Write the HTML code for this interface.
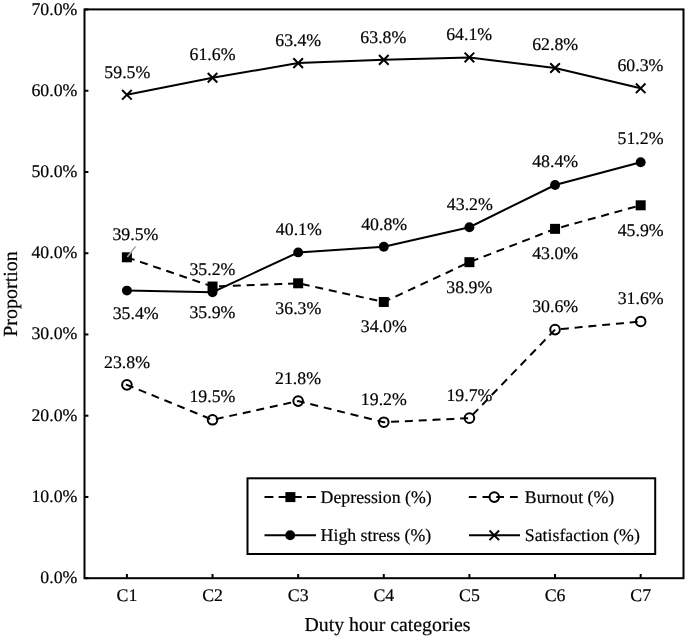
<!DOCTYPE html>
<html><head><meta charset="utf-8"><style>
html,body{margin:0;padding:0;background:#fff;}
svg{display:block;will-change:transform;}
text{text-rendering:geometricPrecision;stroke:#000;stroke-width:0.2px;font-family:"Liberation Serif",serif;font-size:17.8px;fill:#000;}
</style></head><body>
<svg width="685" height="638" viewBox="0 0 685 638">
<rect x="84.5" y="9.4" width="599" height="568.8" fill="none" stroke="#000" stroke-width="2"/>
<line x1="85" y1="578.20" x2="88.4" y2="578.20" stroke="#000" stroke-width="2"/>
<text x="77.4" y="583.20" text-anchor="end">0.0%</text>
<line x1="85" y1="496.96" x2="88.4" y2="496.96" stroke="#000" stroke-width="2"/>
<text x="77.4" y="501.96" text-anchor="end">10.0%</text>
<line x1="85" y1="415.71" x2="88.4" y2="415.71" stroke="#000" stroke-width="2"/>
<text x="77.4" y="420.71" text-anchor="end">20.0%</text>
<line x1="85" y1="334.47" x2="88.4" y2="334.47" stroke="#000" stroke-width="2"/>
<text x="77.4" y="339.47" text-anchor="end">30.0%</text>
<line x1="85" y1="253.23" x2="88.4" y2="253.23" stroke="#000" stroke-width="2"/>
<text x="77.4" y="258.23" text-anchor="end">40.0%</text>
<line x1="85" y1="171.99" x2="88.4" y2="171.99" stroke="#000" stroke-width="2"/>
<text x="77.4" y="176.99" text-anchor="end">50.0%</text>
<line x1="85" y1="90.74" x2="88.4" y2="90.74" stroke="#000" stroke-width="2"/>
<text x="77.4" y="95.74" text-anchor="end">60.0%</text>
<line x1="85" y1="9.50" x2="88.4" y2="9.50" stroke="#000" stroke-width="2"/>
<text x="77.4" y="14.50" text-anchor="end">70.0%</text>
<line x1="126.90" y1="578.2" x2="126.90" y2="574" stroke="#000" stroke-width="2"/>
<text x="126.90" y="601" text-anchor="middle">C1</text>
<line x1="212.53" y1="578.2" x2="212.53" y2="574" stroke="#000" stroke-width="2"/>
<text x="212.53" y="601" text-anchor="middle">C2</text>
<line x1="298.16" y1="578.2" x2="298.16" y2="574" stroke="#000" stroke-width="2"/>
<text x="298.16" y="601" text-anchor="middle">C3</text>
<line x1="383.79" y1="578.2" x2="383.79" y2="574" stroke="#000" stroke-width="2"/>
<text x="383.79" y="601" text-anchor="middle">C4</text>
<line x1="469.42" y1="578.2" x2="469.42" y2="574" stroke="#000" stroke-width="2"/>
<text x="469.42" y="601" text-anchor="middle">C5</text>
<line x1="555.05" y1="578.2" x2="555.05" y2="574" stroke="#000" stroke-width="2"/>
<text x="555.05" y="601" text-anchor="middle">C6</text>
<line x1="640.68" y1="578.2" x2="640.68" y2="574" stroke="#000" stroke-width="2"/>
<text x="640.68" y="601" text-anchor="middle">C7</text>
<text x="387.5" y="631" text-anchor="middle" style="font-size:19.8px">Duty hour categories</text>
<text transform="translate(16.5,294) rotate(-90)" text-anchor="middle" style="font-size:20px">Proportion</text>
<polyline points="126.90,384.84 212.53,419.78 298.16,401.09 383.79,422.21 469.42,418.15 555.05,329.60 640.68,321.47" fill="none" stroke="#000" stroke-width="2" stroke-linecap="square" stroke-dasharray="6 7.83"/>
<polyline points="126.90,257.29 212.53,286.54 298.16,283.29 383.79,301.97 469.42,262.17 555.05,228.86 640.68,205.30" fill="none" stroke="#000" stroke-width="2" stroke-linecap="square" stroke-dasharray="6 7.83" stroke-dashoffset="-1.1"/>
<polyline points="126.90,290.60 212.53,292.23 298.16,252.42 383.79,246.73 469.42,227.23 555.05,184.98 640.68,162.24" fill="none" stroke="#000" stroke-width="2"/>
<polyline points="126.90,94.81 212.53,77.74 298.16,63.12 383.79,59.87 469.42,57.43 555.05,67.99 640.68,88.31" fill="none" stroke="#000" stroke-width="2"/>
<circle cx="126.90" cy="384.84" r="4.80" fill="none" stroke="#000" stroke-width="2"/>
<circle cx="212.53" cy="419.78" r="4.80" fill="none" stroke="#000" stroke-width="2"/>
<circle cx="298.16" cy="401.09" r="4.80" fill="none" stroke="#000" stroke-width="2"/>
<circle cx="383.79" cy="422.21" r="4.80" fill="none" stroke="#000" stroke-width="2"/>
<circle cx="469.42" cy="418.15" r="4.80" fill="none" stroke="#000" stroke-width="2"/>
<circle cx="555.05" cy="329.60" r="4.80" fill="none" stroke="#000" stroke-width="2"/>
<circle cx="640.68" cy="321.47" r="4.80" fill="none" stroke="#000" stroke-width="2"/>
<rect x="121.90" y="252.29" width="10.00" height="10.00" fill="#000"/>
<rect x="207.53" y="281.54" width="10.00" height="10.00" fill="#000"/>
<rect x="293.16" y="278.29" width="10.00" height="10.00" fill="#000"/>
<rect x="378.79" y="296.97" width="10.00" height="10.00" fill="#000"/>
<rect x="464.42" y="257.17" width="10.00" height="10.00" fill="#000"/>
<rect x="550.05" y="223.86" width="10.00" height="10.00" fill="#000"/>
<rect x="635.68" y="200.30" width="10.00" height="10.00" fill="#000"/>
<circle cx="126.90" cy="290.60" r="4.95" fill="#000"/>
<circle cx="212.53" cy="292.23" r="4.95" fill="#000"/>
<circle cx="298.16" cy="252.42" r="4.95" fill="#000"/>
<circle cx="383.79" cy="246.73" r="4.95" fill="#000"/>
<circle cx="469.42" cy="227.23" r="4.95" fill="#000"/>
<circle cx="555.05" cy="184.98" r="4.95" fill="#000"/>
<circle cx="640.68" cy="162.24" r="4.95" fill="#000"/>
<path d="M122.10 90.01L131.70 99.61M122.10 99.61L131.70 90.01" stroke="#000" stroke-width="2" fill="none"/>
<path d="M207.73 72.94L217.33 82.54M207.73 82.54L217.33 72.94" stroke="#000" stroke-width="2" fill="none"/>
<path d="M293.36 58.32L302.96 67.92M293.36 67.92L302.96 58.32" stroke="#000" stroke-width="2" fill="none"/>
<path d="M378.99 55.07L388.59 64.67M378.99 64.67L388.59 55.07" stroke="#000" stroke-width="2" fill="none"/>
<path d="M464.62 52.63L474.22 62.23M464.62 62.23L474.22 52.63" stroke="#000" stroke-width="2" fill="none"/>
<path d="M550.25 63.19L559.85 72.79M550.25 72.79L559.85 63.19" stroke="#000" stroke-width="2" fill="none"/>
<path d="M635.88 83.51L645.48 93.11M635.88 93.11L645.48 83.51" stroke="#000" stroke-width="2" fill="none"/>
<line x1="135.6" y1="246.6" x2="127.3" y2="257.1" stroke="#aaa" stroke-width="1.6"/>
<text x="150.30" y="78.00" text-anchor="end">59.5%</text>
<text x="235.50" y="60.00" text-anchor="end">61.6%</text>
<text x="321.20" y="46.00" text-anchor="end">63.4%</text>
<text x="406.30" y="43.00" text-anchor="end">63.8%</text>
<text x="492.10" y="40.00" text-anchor="end">64.1%</text>
<text x="578.10" y="50.00" text-anchor="end">62.8%</text>
<text x="663.40" y="71.00" text-anchor="end">60.3%</text>
<text x="158.40" y="240.00" text-anchor="end">39.5%</text>
<text x="235.40" y="318.00" text-anchor="end">35.9%</text>
<text x="321.30" y="314.00" text-anchor="end">36.3%</text>
<text x="406.80" y="332.00" text-anchor="end">34.0%</text>
<text x="492.30" y="293.00" text-anchor="end">38.9%</text>
<text x="578.10" y="259.00" text-anchor="end">43.0%</text>
<text x="663.60" y="236.00" text-anchor="end">45.9%</text>
<text x="158.60" y="319.00" text-anchor="end">35.4%</text>
<text x="235.40" y="275.00" text-anchor="end">35.2%</text>
<text x="321.80" y="235.00" text-anchor="end">40.1%</text>
<text x="407.10" y="230.00" text-anchor="end">40.8%</text>
<text x="492.80" y="210.00" text-anchor="end">43.2%</text>
<text x="578.10" y="167.00" text-anchor="end">48.4%</text>
<text x="663.50" y="144.00" text-anchor="end">51.2%</text>
<text x="150.00" y="368.00" text-anchor="end">23.8%</text>
<text x="235.40" y="402.00" text-anchor="end">19.5%</text>
<text x="321.00" y="384.00" text-anchor="end">21.8%</text>
<text x="406.80" y="405.00" text-anchor="end">19.2%</text>
<text x="492.40" y="401.00" text-anchor="end">19.7%</text>
<text x="578.10" y="312.00" text-anchor="end">30.6%</text>
<text x="663.60" y="304.00" text-anchor="end">31.6%</text>
<rect x="247.5" y="478.3" width="407.7" height="75.7" fill="#fff" stroke="#000" stroke-width="2"/>
<line x1="264.5" y1="497.1" x2="316" y2="497.1" stroke="#000" stroke-width="2" stroke-dasharray="8.9 5.25"/>
<rect x="285.40" y="492.10" width="10.00" height="10.00" fill="#000"/>
<text x="320.6" y="503.3">Depression (%)</text>
<line x1="264.5" y1="535.3" x2="316" y2="535.3" stroke="#000" stroke-width="2"/>
<circle cx="290.20" cy="535.30" r="4.95" fill="#000"/>
<text x="320.6" y="541.2">High stress (%)</text>
<line x1="468.8" y1="497.1" x2="518" y2="497.1" stroke="#000" stroke-width="2" stroke-dasharray="7.7 6.03"/>
<circle cx="494.30" cy="497.10" r="4.80" fill="none" stroke="#000" stroke-width="2"/>
<text x="524.8" y="503.3">Burnout (%)</text>
<line x1="469" y1="535.3" x2="520" y2="535.3" stroke="#000" stroke-width="2"/>
<path d="M489.50 530.50L499.10 540.10M489.50 540.10L499.10 530.50" stroke="#000" stroke-width="2" fill="none"/>
<text x="524.8" y="541.2">Satisfaction (%)</text>
</svg>
</body></html>
